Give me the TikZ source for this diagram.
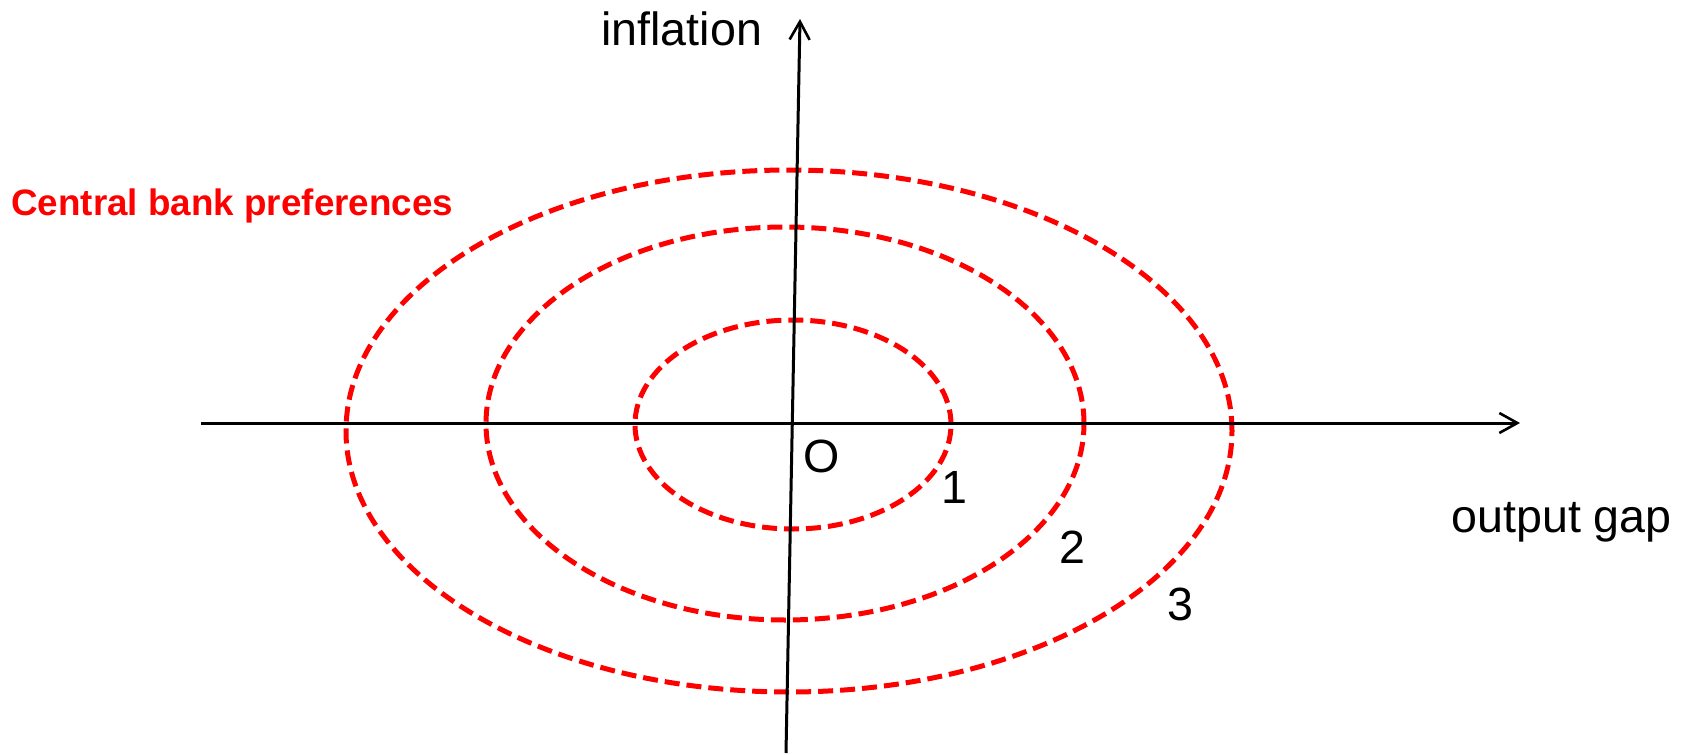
\documentclass[tikz,border=0pt]{standalone}
\usepackage{fontspec}
\setmainfont{Liberation Sans}
\usetikzlibrary{arrows.meta}

\begin{document}
\begin{tikzpicture}[
    x=0.5pt, y=0.5pt,
    axis/.style={line width=1.5pt, -{Straight Barb[length=9pt, width=10pt, line width=1.3pt]}},
    pref/.style={red, line width=2.5pt, dash pattern=on 7.5pt off 3.5pt},
    lbl/.style={anchor=base west, inner sep=0pt, font=\fontsize{23.3}{28}\selectfont},
    title/.style={anchor=base west, inner sep=0pt, red, font=\fontsize{18.4}{22}\selectfont\bfseries}
]
\useasboundingbox (0,0) rectangle (1694,-755);

% axes
\coordinate (xstart) at (201,-423);
\coordinate (xend) at (1520,-423);
\coordinate (ystart) at (786,-753);
\coordinate (yend) at (800,-19);

% preference ellipses
\draw[pref] (793,-424.5) ellipse [x radius=158, y radius=104.5];
\draw[pref] (785,-423.5) ellipse [x radius=299, y radius=196.5];
\draw[pref] (789,-431) ellipse [x radius=443, y radius=261];

\draw[axis] (xstart) -- (xend);
\draw[axis] (ystart) -- (yend);

\node[lbl] (infl) at (601,-46) {inflation};
\node[lbl] (gap) at (1451,-532) {output gap};
\node[lbl] (orig) at (803,-472) {O};
\node[lbl] (one) at (941,-503) {1};
\node[lbl] (two) at (1059,-563) {2};
\node[lbl] (three) at (1167,-620) {3};
\node[title] (cbp) at (11,-215) {Central bank preferences};
\end{tikzpicture}
\end{document}
